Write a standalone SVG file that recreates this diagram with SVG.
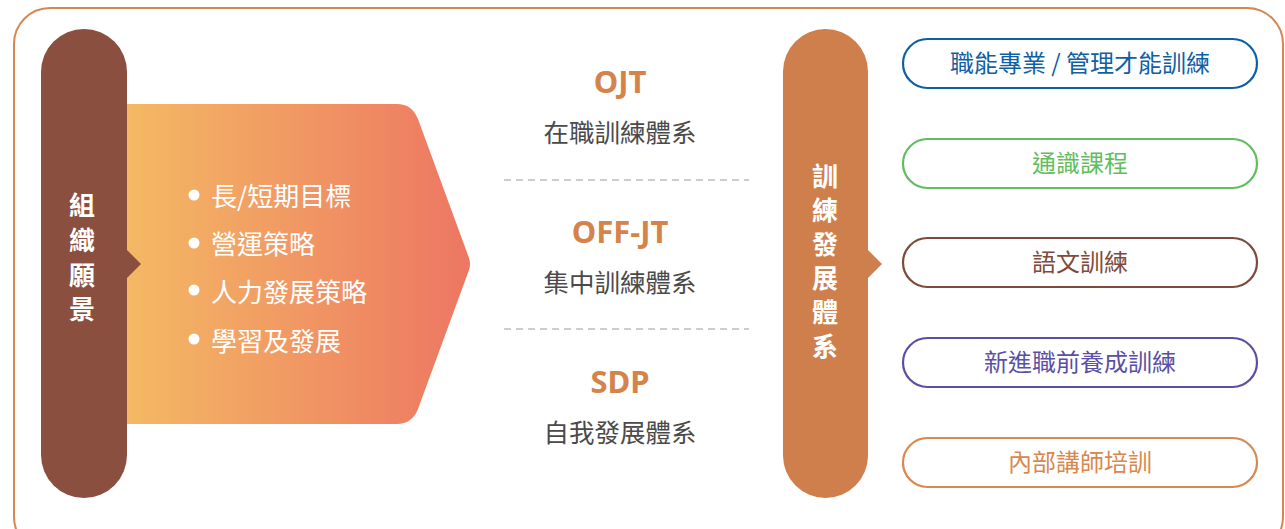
<svg xmlns="http://www.w3.org/2000/svg" width="1285" height="529" viewBox="0 0 1285 529">
<defs>
<linearGradient id="g1" x1="127" y1="0" x2="471" y2="0" gradientUnits="userSpaceOnUse">
<stop offset="0" stop-color="#f4b964"/>
<stop offset="1" stop-color="#ed7662"/>
</linearGradient>
<style>
.cjk{font-family:"Noto Sans CJK TC","Noto Sans",sans-serif}
.vt{font-size:26px;font-weight:bold;fill:#fff;text-anchor:middle}
.bl{font-size:26px;fill:#fff}
.hd{font-family:"Noto Sans","Liberation Sans",sans-serif;font-size:31px;font-weight:bold;fill:#d4834a;text-anchor:middle}
.sub{font-size:25.5px;fill:#4a4a4a;text-anchor:middle}
.pill{fill:#fff;stroke-width:2.2}
.pt{font-size:24px;text-anchor:middle}
.dash{stroke:#bdbdbd;stroke-width:1.5;stroke-dasharray:7 5;fill:none}
</style>
</defs>
<rect x="14" y="8" width="1269" height="545" rx="36" fill="#fff" stroke="#d8874e" stroke-width="2"/>

<g id="vision-body">
<path d="M127,104 H397 Q412,104 418,119 L469,258 Q471,264 469,270 L418,409 Q412,424 397,424 H127 Z" fill="url(#g1)"/>
<g class="cjk bl">
<circle cx="194" cy="195" r="5.5" fill="#fff"/><text x="211" y="206">長/短期目標</text>
<circle cx="194" cy="243" r="5.5" fill="#fff"/><text x="211" y="254">營運策略</text>
<circle cx="194" cy="290" r="5.5" fill="#fff"/><text x="211" y="302">人力發展策略</text>
<circle cx="194" cy="339" r="5.5" fill="#fff"/><text x="211" y="351">學習及發展</text>
</g>
</g>

<g id="vision">
<rect x="41" y="29" width="86" height="469" rx="43" fill="#8a4f3e"/>
<path d="M126,249 L141,264 L126,279 Z" fill="#8a4f3e"/>
<g class="cjk vt">
<text x="82" y="215">組</text>
<text x="82" y="250">織</text>
<text x="82" y="285">願</text>
<text x="82" y="319">景</text>
</g>
</g>

<g id="ojt">
<text class="hd" x="620" y="93">OJT</text>
<text class="cjk sub" x="620" y="142">在職訓練體系</text>
</g>
<g id="offjt">
<text class="hd" x="620" y="243">OFF-JT</text>
<text class="cjk sub" x="620" y="292">集中訓練體系</text>
</g>
<g id="sdp">
<text class="hd" x="620" y="393">SDP</text>
<text class="cjk sub" x="620" y="442">自我發展體系</text>
</g>
<g id="separators">
<line class="dash" x1="504" y1="180" x2="749" y2="180"/>
<line class="dash" x1="504" y1="329" x2="749" y2="329"/>
</g>

<g id="training">
<rect x="783" y="29" width="85" height="469" rx="42.5" fill="#cf7f4b"/>
<path d="M867,249 L882,264 L867,279 Z" fill="#cf7f4b"/>
<g class="cjk vt">
<text x="825" y="186">訓</text>
<text x="825" y="220">練</text>
<text x="825" y="254">發</text>
<text x="825" y="288">展</text>
<text x="825" y="322">體</text>
<text x="825" y="356">系</text>
</g>
</g>

<g id="t1">
<rect class="pill" x="903" y="39" width="354" height="49" rx="24.5" stroke="#0f5fa5"/>
<text class="cjk pt" x="1080" y="72" fill="#0f5fa5">職能專業 / 管理才能訓練</text>
</g>
<g id="t2">
<rect class="pill" x="903" y="139" width="354" height="49" rx="24.5" stroke="#62bd5e"/>
<text class="cjk pt" x="1080" y="172" fill="#62bd5e">通識課程</text>
</g>
<g id="t3">
<rect class="pill" x="903" y="238" width="354" height="49" rx="24.5" stroke="#7d4a3b"/>
<text class="cjk pt" x="1080" y="271" fill="#7d4a3b">語文訓練</text>
</g>
<g id="t4">
<rect class="pill" x="903" y="338" width="354" height="49" rx="24.5" stroke="#5a4fa5"/>
<text class="cjk pt" x="1080" y="371" fill="#5a4fa5">新進職前養成訓練</text>
</g>
<g id="t5">
<rect class="pill" x="903" y="438" width="354" height="49" rx="24.5" stroke="#d8874e"/>
<text class="cjk pt" x="1080" y="471" fill="#d8874e">內部講師培訓</text>
</g>
</svg>
